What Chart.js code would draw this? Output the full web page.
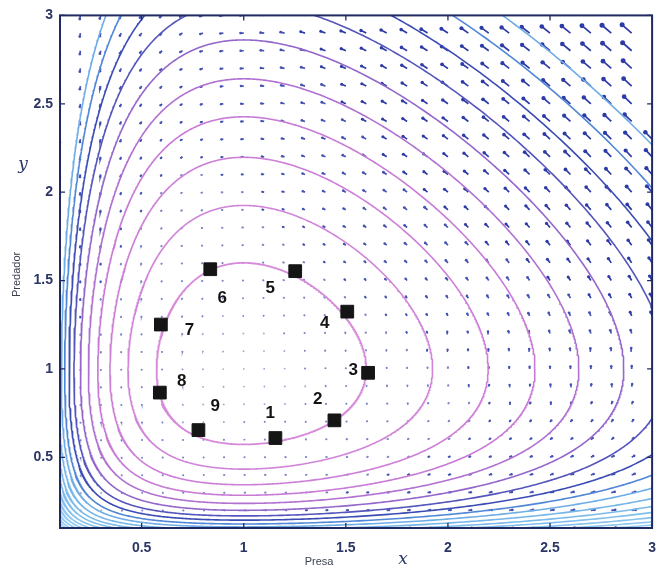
<!DOCTYPE html>
<html>
<head>
<meta charset="utf-8">
<title>Presa / Predador</title>
<script src="https://cdn.jsdelivr.net/npm/chart.js@4.4.1/dist/chart.umd.min.js"></script>
<style>
  html, body { margin: 0; padding: 0; background: #fff; }
  #wrap { width: 668px; height: 575px; }
</style>
</head>
<body>
<div id="wrap"><canvas id="myChart" width="668" height="575"></canvas></div>
<script>
////////////////////////////
// Data //
////////////////////////////
// Lotka-Volterra: dx = x(a - b y), dy = y(-c + d x), equilibrium at (1, 1)
const paramA = [1], paramB = [1], paramC = [1], paramD = [1];

// axis range and ticks
const axisRange = [0.1, 3];
const xTicks = [0.5, 1, 1.5, 2, 2.5, 3];
const yTicks = [0.5, 1, 1.5, 2, 2.5, 3];

// contour levels of H = d x - c ln x + b y - a ln y (innermost = numbered orbit)
const levels = [2.13, 2.27, 2.41, 2.54, 2.67, 2.81, 2.95, 3.08, 3.22, 3.35,
                3.49, 3.63, 3.76, 3.90, 4.04, 4.17, 4.31, 4.45, 4.58, 4.72];

// quiver grid
const gridX = [0.1, 0.2, 0.3, 0.4, 0.5, 0.6, 0.7, 0.8, 0.9, 1.0,
               1.1, 1.2, 1.3, 1.4, 1.5, 1.6, 1.7, 1.8, 1.9, 2.0,
               2.1, 2.2, 2.3, 2.4, 2.5, 2.6, 2.7, 2.8, 2.9, 3.0];
const gridY = gridX.slice();

// numbered points on the orbit
const pointX = [1.155, 1.444, 1.609, 1.507, 1.252, 0.836, 0.594, 0.589, 0.778];
const pointY = [0.609, 0.709, 0.978, 1.324, 1.553, 1.564, 1.251, 0.866, 0.654];
const pointNames = ['1', '2', '3', '4', '5', '6', '7', '8', '9'];
const nameX = [1.13, 1.362, 1.536, 1.396, 1.13, 0.894, 0.734, 0.696, 0.86];
const nameY = [0.75, 0.83, 0.99, 1.26, 1.455, 1.40, 1.22, 0.93, 0.79];

// arrow scale (data units per unit of speed)
const arrowScale = 0.0085;

/////////////////////////////
// Build datasets          //
/////////////////////////////
const a = paramA[0], b = paramB[0], c = paramC[0], d = paramD[0];
const xEq = c / d, yEq = a / b;

function H(x, y) {
  return d * x - c * Math.log(x) + b * y - a * Math.log(y);
}

// trace a level curve along rays in log space around the equilibrium
function orbit(V) {
  const pts = [];
  const n = 900;
  for (let k = 0; k <= n; k++) {
    const t = 2 * Math.PI * k / n;
    const cs = Math.cos(t), sn = Math.sin(t);
    let lo = 0, hi = 8;
    for (let it = 0; it < 50; it++) {
      const mid = (lo + hi) / 2;
      if (H(xEq * Math.exp(mid * cs), yEq * Math.exp(mid * sn)) < V) lo = mid; else hi = mid;
    }
    pts.push({ x: xEq * Math.exp(lo * cs), y: yEq * Math.exp(lo * sn) });
  }
  return pts;
}

// colour along the contour set: pink -> purple -> dark blue -> light blue
const colorStops = [
  [0.00, 214, 138, 217],
  [0.16, 200, 122, 214],
  [0.26, 152, 104, 204],
  [0.32, 80, 84, 186],
  [0.37, 58, 76, 180],
  [0.42, 79, 134, 214],
  [0.48, 114, 178, 232],
  [1.00, 168, 218, 245]
];
function levelColor(t) {
  for (let i = 1; i < colorStops.length; i++) {
    if (t <= colorStops[i][0]) {
      const p = colorStops[i - 1], q = colorStops[i];
      const f = (t - p[0]) / (q[0] - p[0]);
      const mix = (j) => Math.round(p[j] + (q[j] - p[j]) * f);
      return 'rgb(' + mix(1) + ',' + mix(2) + ',' + mix(3) + ')';
    }
  }
  return 'rgb(168,218,245)';
}

var contourSets = levels.map(function (V, i) {
  return {
    label: 'H = ' + V,
    data: orbit(V),
    showLine: true,
    parsing: false,
    borderColor: levelColor(i / (levels.length - 1)),
    borderWidth: i === 0 ? 1.8 : 1.6,
    pointRadius: 0,
    order: 2
  };
});

// quiver arrows, split by speed so slow ones look faint like the original
const arrowBins = [
  { max: 0.3, color: '#a4abd2' },
  { max: 1.0, color: '#7d86c6' },
  { max: 2.5, color: '#4452b2' },
  { max: 1e9, color: '#2d3ba6' }
];
var arrowData = arrowBins.map(() => []);
gridX.forEach(function (x) {
  gridY.forEach(function (y) {
    const u = x * (a - b * y);
    const v = y * (-c + d * x);
    const m = Math.sqrt(u * u + v * v);
    let k = 0;
    while (m > arrowBins[k].max) k++;
    arrowData[k].push({ x: x, y: y, m: m, tip: false });
    arrowData[k].push({ x: x + arrowScale * u, y: y + arrowScale * v, m: m, tip: true });
    arrowData[k].push({ x: x, y: null });
  });
});
var arrowSets = arrowBins.map(function (bin, k) {
  return {
    label: 'campo ' + k,
    data: arrowData[k],
    showLine: true,
    spanGaps: false,
    parsing: false,
    borderColor: bin.color,
    backgroundColor: bin.color,
    borderWidth: k > 1 ? 1.7 : 1.3,
    pointBorderWidth: 0,
    pointRadius: function (ctx) {
      const r = ctx.raw;
      if (!r || !r.tip) return 0;
      return Math.min(2.5, 0.9 + 0.22 * r.m);
    },
    order: 3
  };
});

var markerSet = {
  label: 'puntos',
  data: pointX.map((x, i) => ({ x: x, y: pointY[i] })),
  showLine: false,
  pointStyle: 'rect',
  pointRadius: 9,
  backgroundColor: '#151515',
  borderColor: '#151515',
  borderWidth: 1,
  order: 1
};

/////////////////////////////
// Plugins                 //
/////////////////////////////
const frameColor = '#1f2a60';

// box around the axes with inward ticks (MATLAB style)
const framePlugin = {
  id: 'frame',
  afterDatasetsDraw(chart) {
    const { ctx, chartArea: ca, scales } = chart;
    ctx.save();
    ctx.strokeStyle = frameColor;
    ctx.lineWidth = 2;
    ctx.strokeRect(ca.left, ca.top, ca.right - ca.left, ca.bottom - ca.top);
    ctx.lineWidth = 1.3;
    ctx.beginPath();
    xTicks.forEach(function (t) {
      const px = scales.x.getPixelForValue(t);
      ctx.moveTo(px, ca.bottom); ctx.lineTo(px, ca.bottom - 5);
      ctx.moveTo(px, ca.top); ctx.lineTo(px, ca.top + 5);
    });
    yTicks.forEach(function (t) {
      const py = scales.y.getPixelForValue(t);
      ctx.moveTo(ca.left, py); ctx.lineTo(ca.left + 5, py);
      ctx.moveTo(ca.right, py); ctx.lineTo(ca.right - 5, py);
    });
    ctx.stroke();
    ctx.restore();
  }
};

// numbers next to the points and the axis titles
const labelPlugin = {
  id: 'labels',
  afterDraw(chart) {
    const { ctx, chartArea: ca, scales } = chart;
    ctx.save();
    ctx.fillStyle = '#141414';
    ctx.font = 'bold 17px "Liberation Sans", Arial, sans-serif';
    ctx.textAlign = 'center';
    ctx.textBaseline = 'middle';
    pointNames.forEach(function (s, i) {
      ctx.fillText(s, scales.x.getPixelForValue(nameX[i]), scales.y.getPixelForValue(nameY[i]));
    });

    // x axis titles
    ctx.fillStyle = '#3a3f52';
    ctx.font = '11px "Liberation Sans", Arial, sans-serif';
    ctx.fillText('Presa', ca.left + 259, ca.bottom + 34);
    ctx.fillStyle = '#2b3566';
    ctx.font = 'italic 17px "DejaVu Serif", "Liberation Serif", serif';
    ctx.fillText('x', ca.left + 343, ca.bottom + 32);

    // y axis titles
    ctx.fillText('y', 23, ca.top + 149);
    ctx.fillStyle = '#3a3f52';
    ctx.font = '11px "Liberation Sans", Arial, sans-serif';
    ctx.translate(17, ca.top + 259);
    ctx.rotate(-Math.PI / 2);
    ctx.fillText('Predador', 0, 0);
    ctx.restore();
  }
};

/////////////////////////////
// Chart                   //
/////////////////////////////
const tickFont = { family: '"Liberation Sans", Arial, sans-serif', size: 14, weight: 'bold' };

var myChart = new Chart(document.getElementById('myChart'), {
  type: 'scatter',
  data: {
    datasets: [markerSet].concat(contourSets, arrowSets)
  },
  options: {
    responsive: false,
    devicePixelRatio: 1,
    animation: false,
    events: [],
    layout: { padding: { left: 0, right: 5, top: 13, bottom: 0 } },
    plugins: {
      legend: { display: false },
      tooltip: { enabled: false }
    },
    scales: {
      x: {
        type: 'linear',
        min: axisRange[0],
        max: axisRange[1],
        grid: { display: false, drawTicks: false },
        border: { display: false },
        ticks: { color: '#2b3566', font: tickFont, padding: 12, maxRotation: 0,
                  callback: (v) => String(v) },
        afterBuildTicks: (s) => { s.ticks = xTicks.map(v => ({ value: v })); },
        afterFit: (s) => { s.height = 47; }
      },
      y: {
        type: 'linear',
        min: axisRange[0],
        max: axisRange[1],
        grid: { display: false, drawTicks: false },
        border: { display: false },
        ticks: { color: '#2b3566', font: tickFont, padding: 7,
                  callback: (v) => String(v) },
        afterBuildTicks: (s) => { s.ticks = yTicks.map(v => ({ value: v })); },
        afterFit: (s) => { s.width = 60; }
      }
    }
  },
  plugins: [framePlugin, labelPlugin]
});
</script>
</body>
</html>
